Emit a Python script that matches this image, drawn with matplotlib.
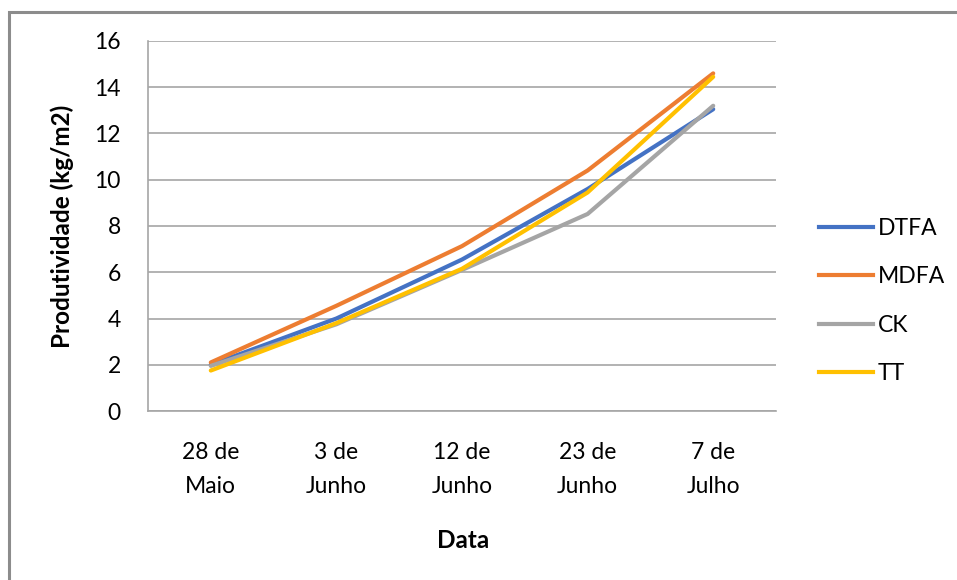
import matplotlib
matplotlib.use("Agg")
import matplotlib.pyplot as plt
from matplotlib.patches import Rectangle
from matplotlib.lines import Line2D

# datas das colheitas e produtividade por tratamento
datas = ["28 de\nMaio", "3 de\nJunho", "12 de\nJunho", "23 de\nJunho", "7 de\nJulho"]
dtfa = [2.0, 4.0, 6.55, 9.6, 13.05]
mdfa = [2.1, 4.55, 7.13, 10.4, 14.6]
ck = [1.95, 3.75, 6.1, 8.52, 13.2]
tt = [1.75, 3.8, 6.15, 9.45, 14.45]

series = [("DTFA", dtfa, "#4472C4"),
          ("MDFA", mdfa, "#ED7D31"),
          ("CK", ck, "#A5A5A5"),
          ("TT", tt, "#FFC000")]

plt.rcParams["font.family"] = ["Lato", "DejaVu Sans"]
fs = 16.5

W, H = 957, 580
fig = plt.figure(figsize=(W / 100, H / 100), dpi=100)

# moldura externa do gráfico (cortada à direita e embaixo)
fig.patches.append(Rectangle((9 / W, -0.1), 1.2, 1.1 - 12 / H, transform=fig.transFigure,
                             fill=False, edgecolor="#8c8c8c", linewidth=2.2))

ax = fig.add_axes([148 / W, (H - 411) / H, 628 / W, 370 / H])

x = list(range(len(datas)))
for nome, valores, cor in series:
    ax.plot(x, valores, color=cor, linewidth=3, label=nome, solid_capstyle="round")

ax.set_xlim(-0.5, len(datas) - 0.5)
ax.set_ylim(0, 16)
ax.set_yticks(range(0, 17, 2))
ax.set_xticks(x)
ax.set_xticklabels(datas, linespacing=1.8)

ax.grid(axis="y", color="#a6a6a6", linewidth=1.2)
ax.set_axisbelow(True)
for lado in ["top", "right"]:
    ax.spines[lado].set_visible(False)
for lado in ["left", "bottom"]:
    ax.spines[lado].set_color("#a6a6a6")
    ax.spines[lado].set_linewidth(1.2)

ax.tick_params(axis="both", length=0, labelsize=fs)
ax.tick_params(axis="y", pad=19.5)
ax.tick_params(axis="x", pad=22)

fig.text(62 / W, 1 - 226 / H, "Produtividade (kg/m2)", rotation=90, fontsize=17.5,
         fontweight="bold", ha="center", va="center")
fig.text(463 / W, 1 - 541 / H, "Data", fontsize=17.5, fontweight="bold",
         ha="center", va="center")

# legenda à direita
linhas = [Line2D([], [], color=c, linewidth=3) for _, _, c in series]
fig.legend(linhas, [s[0] for s in series], loc="center left",
           bbox_to_anchor=(798 / W, 1 - 301 / H), frameon=False, fontsize=fs,
           handlelength=2.36, handletextpad=0.22, labelspacing=1.18)

fig.savefig("out.png", dpi=100)
